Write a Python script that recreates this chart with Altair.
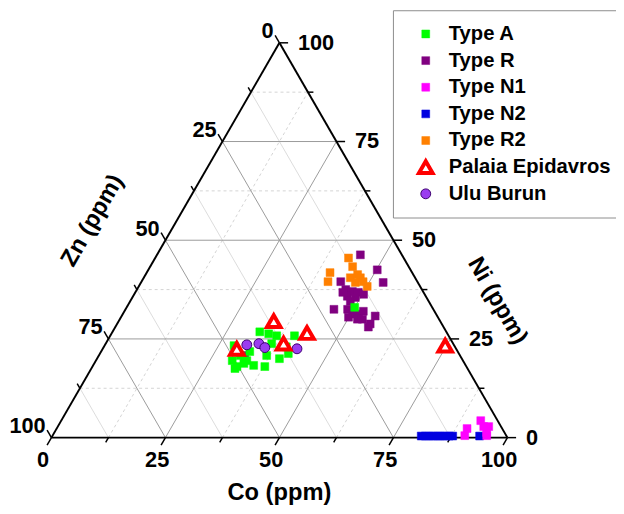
import math
import altair as alt
import pandas as pd

# ---------------- data (ternary: Co, Ni; Zn = 100 - Co - Ni) ----------------
series_names = ["Type A", "Type R", "Type N1", "Type N2", "Type R2",
                "Palaia Epidavros", "Ulu Burun"]

typeA_co = [28.4, 31.7, 32.8, 35.2, 37.8, 32.3, 34.5, 36.5, 40.4, 40.0,
            41.3, 36.8, 32.6, 31.0, 36.4, 40.0, 33.1, 29.9, 50.0, 31.5]
typeA_ni = [23.3, 18.0, 18.8, 18.3, 18.0, 26.8, 26.3, 25.8, 25.8, 20.0,
            21.3, 20.8, 21.8, 20.8, 23.8, 23.0, 19.5, 19.5, 33.0, 17.5]

typeR_co = [32.0, 44.6, 50.2, 53.1, 43.7, 45.8, 47.5, 48.9, 47.0, 48.9,
            50.3, 45.5, 48.3, 45.7, 48.7, 50.4, 51.7, 52.4, 49.9, 52.1,
            53.2, 55.6, 55.5, 55.5]
typeR_ni = [20.8, 46.3, 42.5, 39.3, 39.5, 37.5, 37.0, 36.8, 35.8, 35.5,
            36.3, 36.8, 34.5, 32.5, 32.5, 31.3, 31.3, 32.0, 30.5, 30.0,
            30.0, 30.8, 28.8, 28.0]

typeN1_co = [90.0, 90.4, 92.0, 93.4, 94.5, 94.8, 95.2]
typeN1_ni = [2.3, 0.5, 4.3, 2.8, 2.8, 1.3, 0.5]

typeN2_co = [80.9, 81.8, 82.6, 83.5, 84.4, 85.2, 86.1, 87.0, 87.8, 93.7]
typeN2_ni = [0.4, 0.4, 0.4, 0.4, 0.4, 0.4, 0.4, 0.4, 0.4, 0.4]

typeR2_co = [42.4, 44.4, 40.2, 40.9, 46.5, 47.5, 45.3, 50.1, 47.0, 48.6]
typeR2_ni = [45.5, 43.3, 41.8, 39.5, 41.3, 40.5, 40.5, 38.3, 39.3, 39.5]

palaia_co = [34.0, 39.0, 42.8, 29.4, 74.7]
palaia_ni = [29.5, 23.8, 26.5, 22.5, 23.3]

ulu_co = [31.1, 33.6, 35.4, 42.6]
ulu_ni = [23.5, 23.8, 22.8, 22.5]

tick_values = [0, 25, 50, 75, 100]
major_grid = [25, 50, 75]
minor_grid = [12.5, 37.5, 62.5, 87.5]

# ---------------- styles ----------------
fills = ["#00ff00", "#800080", "#ff00ff", "#0000e0", "#ff8000", "#ffffff", "#9b3cf0"]
strokes = ["#00ff00", "#800080", "#ff00ff", "#0000e0", "#ff8000", "#ff0000", "#3c0070"]
shapes = ["square"] * 5 + ["triangle-up", "circle"]
sizes = [64, 64, 64, 64, 64, 190, 100]
stroke_widths = [0.5, 0.5, 0.5, 0.5, 0.5, 4, 1]

FONT = "Liberation Sans"
S3 = math.sqrt(3) / 2
TL = 1.9   # major tick length (data units)
TLm = 1.2  # minor tick length

# ---------------- tables ----------------
order = [("Type R", typeR_co, typeR_ni), ("Type R2", typeR2_co, typeR2_ni),
         ("Type A", typeA_co, typeA_ni), ("Type N2", typeN2_co, typeN2_ni),
         ("Type N1", typeN1_co, typeN1_ni), ("Ulu Burun", ulu_co, ulu_ni),
         ("Palaia Epidavros", palaia_co, palaia_ni)]
rows = []
for name, cos, nis in order:
    for c, n in zip(cos, nis):
        rows.append({"series": name, "co": c, "ni": n})
pts = pd.DataFrame(rows)


def seg_lines(vals, kind):
    out = []
    for v in vals:
        if "ni" in kind:
            out.append({"co": 0, "ni": v, "co2": 100 - v, "ni2": v})
        if "co" in kind:
            out.append({"co": v, "ni": 0, "co2": v, "ni2": 100 - v})
        if "zn" in kind:
            out.append({"co": 100 - v, "ni": 0, "co2": 0, "ni2": 100 - v})
    return pd.DataFrame(out)


grid_major = seg_lines(major_grid, ("ni", "co", "zn"))
grid_minor_dash = seg_lines(minor_grid, ("ni", "co"))
grid_minor_solid = seg_lines(minor_grid, ("zn",))

edges = pd.DataFrame([
    {"co": 0, "ni": 0, "co2": 100, "ni2": 0},
    {"co": 100, "ni": 0, "co2": 0, "ni2": 100},
    {"co": 0, "ni": 100, "co2": 0, "ni2": 0},
])

ticks = []
for vals, L in ((tick_values, TL), (minor_grid, TLm)):
    for v in vals:
        ticks.append({"co": v, "ni": 0, "co2": v, "ni2": -L})                       # Co (bottom)
        ticks.append({"co": 0, "ni": 100 - v, "co2": -L, "ni2": 100 - v + L})       # Zn (left)
        ticks.append({"co": 100 - v, "ni": v, "co2": 100 - v + L, "ni2": v})        # Ni (right)
ticks = pd.DataFrame(ticks)

lab_bottom = pd.DataFrame([{"co": v, "ni": -TL, "t": str(v)} for v in tick_values])
lab_left = pd.DataFrame([{"co": -TL, "ni": 100 - v + TL, "t": str(v)} for v in tick_values])
lab_right = pd.DataFrame([{"co": 100 - v + TL, "ni": v, "t": str(v)} for v in tick_values])

titles = pd.DataFrame([
    {"t": "Co (ppm)", "x": 50.0, "y": -12.2, "a": 0},
    {"t": "Zn (ppm)", "x": 9.0, "y": 47.6, "a": 300},
    {"t": "Ni (ppm)", "x": 97.8, "y": 30.0, "a": 60},
])

# ---------------- chart ----------------
xs = alt.Scale(domain=[0, 100], nice=False, zero=False)
ys = alt.Scale(domain=[0, 100 * S3], nice=False, zero=False)
X = lambda f: alt.X(f, type="quantitative", scale=xs, axis=None)
Y = lambda f: alt.Y(f, type="quantitative", scale=ys, axis=None)


def cart(ch, two=True):
    ch = ch.transform_calculate(x="datum.co + datum.ni/2", y="datum.ni*sqrt(3)/2")
    if two:
        ch = ch.transform_calculate(x2="datum.co2 + datum.ni2/2", y2="datum.ni2*sqrt(3)/2")
    return ch


def segs(df, color, width, dash=None):
    kw = dict(color=color, strokeWidth=width)
    if dash:
        kw["strokeDash"] = dash
    return cart(alt.Chart(df)).mark_rule(**kw).encode(
        x=X("x"), y=Y("y"), x2="x2:Q", y2="y2:Q")


layer_minor_d = segs(grid_minor_dash, "#c8c8c8", 0.8, [3, 3])
layer_minor_s = segs(grid_minor_solid, "#d2d2d2", 0.8)
layer_major = segs(grid_major, "#9a9a9a", 1)
layer_edges = segs(edges, "black", 2)
layer_ticks = segs(ticks, "black", 1.5)


def labels(df, align, baseline, dx, dy):
    return cart(alt.Chart(df), two=False).mark_text(
        align=align, baseline=baseline, dx=dx, dy=dy, font=FONT,
        fontWeight="bold", fontSize=22, color="black").encode(
        x=X("x"), y=Y("y"), text="t:N")


lb = labels(lab_bottom, "center", "top", -4, 5)
ll = labels(lab_left, "right", "middle", -1.5, -4)
lr = labels(lab_right, "left", "middle", 10, 0)

lt = alt.Chart(titles).mark_text(font=FONT, fontWeight="bold", fontSize=24,
                                 color="black", baseline="middle").encode(
    x=X("x"), y=Y("y"), text="t:N", angle=alt.Angle("a:Q", scale=None))

leg = alt.Legend(title=None, orient="none", legendX=346, legendY=-33,
                 labelFont=FONT, labelFontWeight="bold", labelFontSize=20.5,
                 labelColor="black", strokeColor="#8c8c8c", padding=13,
                 rowPadding=5, clipHeight=22, symbolOffset=10, labelOffset=13,
                 labelLimit=300, fillColor="white")

points = cart(alt.Chart(pts), two=False).mark_point(filled=True, opacity=1).encode(
    x=X("x"), y=Y("y"),
    fill=alt.Fill("series:N", scale=alt.Scale(domain=series_names, range=fills), legend=leg),
    stroke=alt.Stroke("series:N", scale=alt.Scale(domain=series_names, range=strokes), legend=leg),
    shape=alt.Shape("series:N", scale=alt.Scale(domain=series_names, range=shapes), legend=leg),
    size=alt.Size("series:N", scale=alt.Scale(type="ordinal", domain=series_names, range=sizes), legend=leg),
    strokeWidth=alt.StrokeWidth("series:N", scale=alt.Scale(type="ordinal", domain=series_names, range=stroke_widths), legend=leg),
)

chart = alt.layer(layer_minor_d, layer_minor_s, layer_major, layer_edges, layer_ticks,
                  lb, ll, lr, lt, points).properties(
    width=462, height=400,
    autosize=alt.AutoSizeParams(type="none"),
    padding={"left": 44, "top": 32, "right": 110, "bottom": 66},
).configure_view(stroke=None)

chart.save("out.html", embed_options={"renderer": "svg", "actions": False})
